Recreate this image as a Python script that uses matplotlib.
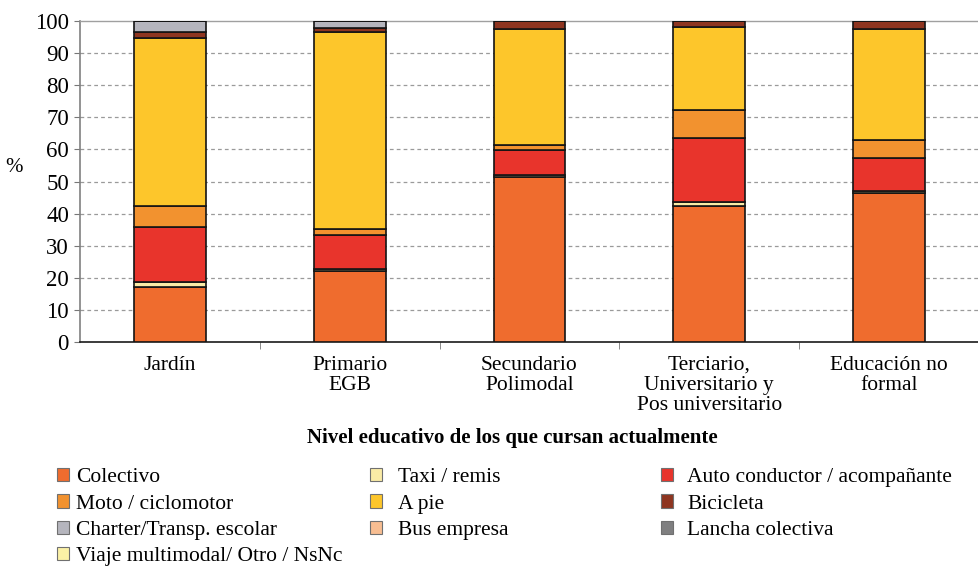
import matplotlib
matplotlib.use("Agg")
import matplotlib.pyplot as plt
from matplotlib.patches import Patch
import numpy as np

categories = ["Jardín", "Primario\nEGB", "Secundario\nPolimodal",
              "Terciario,\nUniversitario y\nPos universitario", "Educación no\nformal"]

series_names = ["Colectivo", "Taxi / remis", "Auto conductor / acompañante",
                "Moto / ciclomotor", "A pie", "Bicicleta",
                "Charter/Transp. escolar", "Bus empresa", "Lancha colectiva",
                "Viaje multimodal/ Otro / NsNc"]

colectivo = [17.0, 22.1, 51.4, 42.4, 46.3]
taxi = [1.6, 0.7, 0.6, 1.3, 0.8]
auto = [17.2, 10.4, 7.7, 19.8, 10.2]
moto = [6.7, 2.0, 1.7, 8.8, 5.5]
a_pie = [52.1, 61.4, 36.0, 25.9, 34.6]
bicicleta = [2.0, 1.2, 2.6, 1.8, 2.6]
charter = [3.4, 2.2, 0.0, 0.0, 0.0]
bus_empresa = [0.0, 0.0, 0.0, 0.0, 0.0]
lancha = [0.0, 0.0, 0.0, 0.0, 0.0]
viaje = [0.0, 0.0, 0.0, 0.0, 0.0]

series_values = [colectivo, taxi, auto, moto, a_pie, bicicleta,
                 charter, bus_empresa, lancha, viaje]
colors = ["#EF6C2E", "#FAEBA6", "#E8342C", "#F2922F", "#FDC62B", "#8E3520",
          "#B5B5BD", "#F8BE92", "#7F7F80", "#FBF1A6"]

yticks = [0, 10, 20, 30, 40, 50, 60, 70, 80, 90, 100]

serif = ["Liberation Serif", "DejaVu Serif"]
plt.rcParams["font.family"] = serif

fig = plt.figure(figsize=(9.79, 5.69), dpi=100)
ax = fig.add_axes([80/979, 1-342/569, 1-80/979, (342-21)/569])

x = np.arange(len(categories))
bottom = np.zeros(len(categories))
for name, vals, col in zip(series_names, series_values, colors):
    v = np.array(vals)
    ax.bar(x, v, width=0.4, bottom=bottom, color=col, edgecolor="#141414",
           linewidth=1.2, zorder=3)
    bottom += v

ax.set_xlim(-0.5, len(categories) - 0.5)
ax.set_ylim(0, 100)
ax.set_yticks(yticks)
ax.set_yticklabels([str(t) for t in yticks], fontsize=16.5)
for t in yticks[1:-1]:
    ax.axhline(t, color="#9a9a9a", linestyle=(0, (3, 2.5)), linewidth=0.9, zorder=1)

ax.set_xticks(x)
ax.set_xticklabels(categories, fontsize=15.5, linespacing=1.07)
ax.tick_params(axis="x", length=0, pad=10)
ax.set_xticks(np.arange(0.5, len(categories) - 0.5, 1.0), minor=True)
ax.tick_params(axis="x", which="minor", length=5, color="#777777", direction="out")
ax.tick_params(axis="y", length=4, color="#777777", direction="out", pad=4)

ax.spines["right"].set_visible(False)
ax.spines["top"].set_color("#a0a0a0")
ax.spines["top"].set_linewidth(1.0)
ax.spines["left"].set_color("#808080")
ax.spines["left"].set_linewidth(1.2)
ax.spines["bottom"].set_color("#1a1a1a")
ax.spines["bottom"].set_linewidth(1.2)

fig.text(14/979, 1-168/569, "%", fontsize=15, ha="center", va="center")
fig.text(512/979, 1-438/569, "Nivel educativo de los que cursan actualmente",
         fontsize=15, fontweight="bold", ha="center", va="center")

handles = [Patch(facecolor=c, edgecolor="#707070", linewidth=0.8) for c in colors]
col_groups = [[0, 3, 6, 9], [1, 4, 7], [2, 5, 8]]
col_x = [57, 370, 661]
col_pad = [0.3, 0.75, 0.65]
for grp, cx, tp in zip(col_groups, col_x, col_pad):
    fig.legend([handles[i] for i in grp], [series_names[i] for i in grp],
               loc="upper left", bbox_to_anchor=(cx/979, 1-468/569),
               frameon=False, fontsize=15.5, handlelength=0.57, handleheight=0.57,
               handletextpad=tp, labelspacing=0.33, borderpad=0, borderaxespad=0)

fig.savefig("out.png", dpi=100)
